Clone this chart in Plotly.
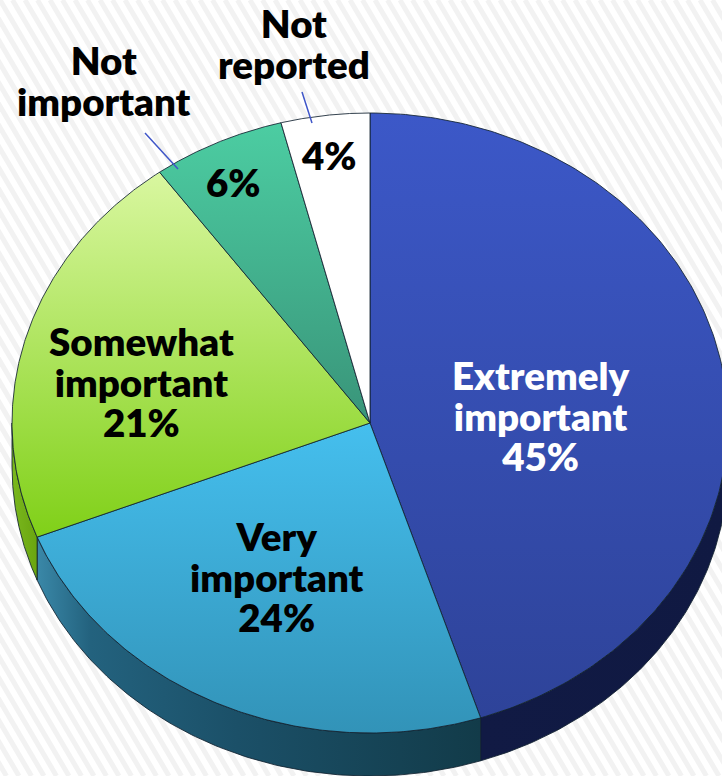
import numpy as np
import plotly.graph_objects as go

categories = ["Extremely important", "Very important", "Somewhat important", "Not important", "Not reported"]
values = [45, 24, 21, 6, 4]
top_colors = [
    [(0, "#3c58c8"), (1, "#2e4399")],
    [(0, "#45bfee"), (1, "#3293b8")],
    [(0, "#d9f7a0"), (1, "#80d018")],
    [(0, "#4ccda2"), (1, "#399479")],
    [(0, "#ffffff"), (1, "#ffffff")],
]
side_colors = [
    [(0, "#111a44"), (1, "#101942")],
    [(0, "#3a88a8"), (0.12, "#23627e"), (0.45, "#1b5068"), (1, "#123b49")],
    [(0, "#7ab81e"), (1, "#6aa510")],
    None,
    None,
]
label_lines = [
    ["Extremely", "important", "45%"],
    ["Very", "important", "24%"],
    ["Somewhat", "important", "21%"],
    ["Not", "important"],
    ["Not", "reported"],
    ["6%"],
    ["4%"],
]
label_x = [540, 277, 141, 104, 294, 233, 329]
label_y = [415, 576, 381, 80, 43, 182, 155]
label_color = ["white", "black", "black", "black", "black", "black", "black"]

CX, CY, RX, RY, DEPTH = 370, 423, 358, 310, 43
OUTLINE = "rgba(18,34,48,0.85)"
W, H = 722, 776


def ell(t, dy=0):
    return CX + RX * np.sin(t), CY - RY * np.cos(t) + dy


fig = go.Figure()
edges = np.cumsum([0] + values) / sum(values) * 2 * np.pi

# side wall (visible front half only)
for i in range(len(values)):
    a, b = max(edges[i], np.pi / 2), min(edges[i + 1], 3 * np.pi / 2)
    if b <= a or side_colors[i] is None:
        continue
    t = np.linspace(a, b, 120)
    xt, yt = ell(t)
    xb, yb = ell(t[::-1], DEPTH)
    fig.add_trace(go.Scatter(
        x=np.r_[xt, xb, xt[0]], y=np.r_[yt, yb, yt[0]], mode="lines", fill="toself",
        line=dict(color=OUTLINE, width=1), hoverinfo="skip", showlegend=False,
        fillgradient=dict(type="horizontal", colorscale=side_colors[i],
                          start=float(np.min(xt)), stop=float(np.max(xt))),
    ))

# top surface
for i in range(len(values)):
    t = np.linspace(edges[i], edges[i + 1], 200)
    xt, yt = ell(t)
    ys = np.r_[CY, yt, CY]
    fig.add_trace(go.Scatter(
        x=np.r_[CX, xt, CX], y=ys, mode="lines", fill="toself",
        name=categories[i], line=dict(color=OUTLINE, width=1), hoverinfo="skip", showlegend=False,
        fillgradient=dict(type="vertical", colorscale=top_colors[i],
                          start=float(ys.min()), stop=float(ys.max())),
    ))

# background stripes
shapes = []
for k in range(-40, 70):
    x0 = k * 12.5
    shapes.append(dict(type="line", xref="x", yref="y", layer="below",
                       x0=x0, y0=0, x1=x0 + H / 1.7, y1=H,
                       line=dict(color="#f2f2f2", width=5)))
# leader lines
for (x0, y0, x1, y1) in [(145, 133, 178, 169), (302, 92, 312, 123)]:
    shapes.append(dict(type="line", xref="x", yref="y", layer="above",
                       x0=x0, y0=y0, x1=x1, y1=y1,
                       line=dict(color="#3f56c8", width=1.5)))

annotations = []
for lines, x, y, c in zip(label_lines, label_x, label_y, label_color):
    text = "<br>".join('<span style="font-size:38.5px">%s</span>' % s for s in lines)
    annotations.append(dict(x=x, y=y, text=text, showarrow=False, align="center",
                            xref="x", yref="y", xanchor="center", yanchor="middle",
                            font=dict(family="Lato", size=31.2, color=c, weight=800)))

fig.update_layout(
    width=W, height=H, margin=dict(l=0, r=0, t=0, b=0), autosize=False,
    paper_bgcolor="white", plot_bgcolor="white", shapes=shapes, annotations=annotations,
    xaxis=dict(range=[0, W], visible=False, fixedrange=True),
    yaxis=dict(range=[H, 0], visible=False, fixedrange=True),
)
fig.write_html("out.html", config=dict(displayModeBar=False),
               post_script="document.documentElement.style.overflow='hidden';document.body.style.margin='0';")
